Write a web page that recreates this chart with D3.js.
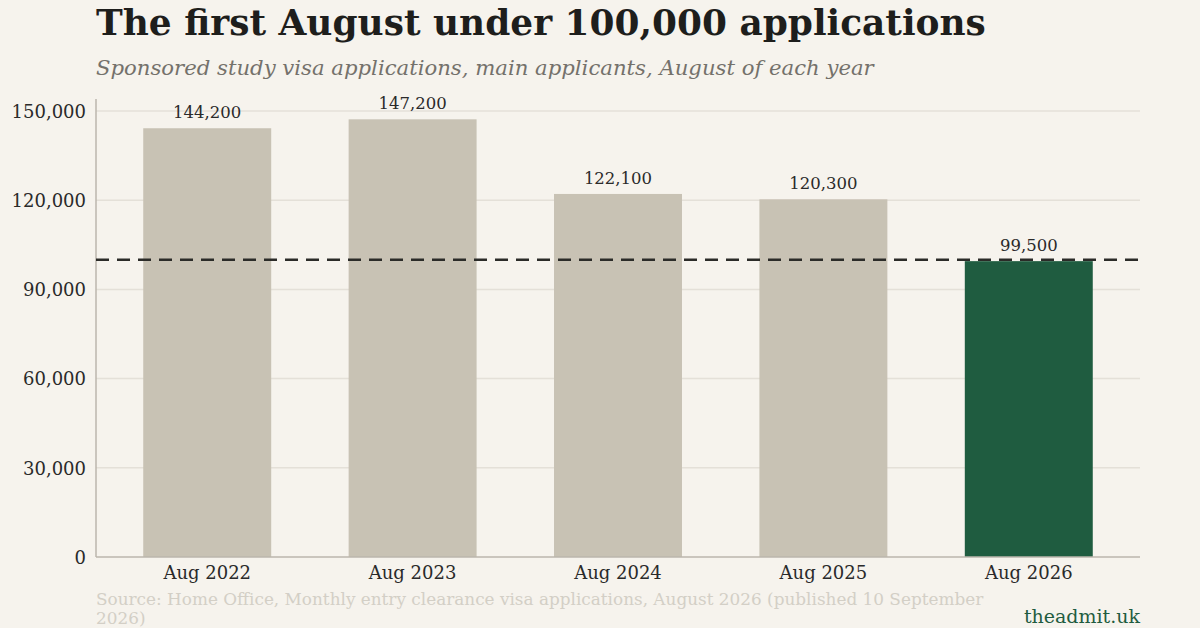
<!DOCTYPE html>
<html><head><meta charset="utf-8">
<script src="https://cdn.jsdelivr.net/npm/d3@7"></script>
<style>
html,body{margin:0;padding:0;background:#f6f3ed;}
svg{display:block;}
</style></head>
<body>
<svg id="chart" width="1200" height="628"></svg>
<script>
const categories = ["Aug 2022","Aug 2023","Aug 2024","Aug 2025","Aug 2026"];
const applications = [144200,147200,122100,120300,99500];
const yTicks = [0,30000,60000,90000,120000,150000];
const threshold = 100000;
const titleText = "The first August under 100,000 applications";
const subtitleText = "Sponsored study visa applications, main applicants, August of each year";
const sourceLines = ["Source: Home Office, Monthly entry clearance visa applications, August 2026 (published 10 September","2026)"];
const brandText = "theadmit.uk";

const W=1200,H=628;
const m={left:96,right:60,top:111,bottom:71};
const svg=d3.select("#chart");
svg.append("rect").attr("width",W).attr("height",H).attr("fill","#f6f3ed");

const x=d3.scaleBand().domain(categories).range([m.left,W-m.right]).paddingInner(0.377).paddingOuter(0.23);
const y=d3.scaleLinear().domain([0,150000]).range([H-m.bottom,m.top]);

const serif="'DejaVu Serif', 'Liberation Serif', serif";

function fit(sel,target){
  const n=sel.node(); const w=n.getComputedTextLength();
  const fs=parseFloat(sel.attr("font-size"));
  sel.attr("font-size",fs*target/w);
}

// gridlines
svg.append("g").selectAll("line").data(yTicks.filter(d=>d>0)).join("line")
  .attr("x1",m.left).attr("x2",W-m.right)
  .attr("y1",d=>y(d)).attr("y2",d=>y(d))
  .attr("stroke","#e4e0d8").attr("stroke-width",1.5);

// y axis
const yAxis=svg.append("g").attr("transform",`translate(${m.left},0)`)
  .call(d3.axisLeft(y).tickValues(yTicks).tickFormat(d3.format(",")).tickSize(0).tickPadding(10));
yAxis.select(".domain").attr("stroke","#bbb6ac").attr("stroke-width",1.5).attr("d",`M0,${y(0)}V${m.top-12}`);
yAxis.selectAll("text").attr("font-family",serif).attr("font-size",18).attr("fill","#2a2a2a").attr("dy","0.35em");

// bars
svg.append("g").selectAll("rect").data(applications).join("rect")
  .attr("x",(d,i)=>x(categories[i])).attr("width",x.bandwidth())
  .attr("y",d=>y(d)).attr("height",d=>y(0)-y(d))
  .attr("fill",(d,i)=>i===categories.length-1?"#1f5c40":"#c8c2b4");

// x axis
const xAxis=svg.append("g").attr("transform",`translate(0,${y(0)})`)
  .call(d3.axisBottom(x).tickSize(0).tickPadding(9));
xAxis.select(".domain").attr("stroke","#bbb6ac").attr("stroke-width",1.5).attr("d",`M${m.left},0H${W-m.right}`);
xAxis.selectAll("text").attr("font-family",serif).attr("font-size",18).attr("fill","#2a2a2a");

// value labels
svg.append("g").selectAll("text").data(applications).join("text")
  .attr("x",(d,i)=>x(categories[i])+x.bandwidth()/2).attr("y",d=>y(d)-10)
  .attr("text-anchor","middle").attr("font-family",serif).attr("font-size",16.5).attr("fill","#2a2a2a")
  .text(d=>d3.format(",")(d));

// threshold line
svg.append("line").attr("x1",m.left).attr("x2",W-m.right)
  .attr("y1",y(threshold)).attr("y2",y(threshold))
  .attr("stroke","#2b2b28").attr("stroke-width",2.5).attr("stroke-dasharray","13,8");

// title
const t=svg.append("text").attr("x",m.left).attr("y",35).attr("font-family",serif)
  .attr("font-weight","bold").attr("font-size",40).attr("fill","#1e1e1c").text(titleText);
fit(t,890);
const st=svg.append("text").attr("x",m.left).attr("y",75).attr("font-family",serif)
  .attr("font-style","italic").attr("font-size",20).attr("fill","#74716b").text(subtitleText);
fit(st,778);

// source
const src=svg.append("g");
sourceLines.forEach((l,i)=>{
  const s=src.append("text").attr("x",m.left).attr("y",605+i*19).attr("font-family",serif)
    .attr("font-size",16).attr("fill","#d3cfc6").text(l);
  if(i===0) fit(s,888);
  else s.attr("font-size",src.select("text").attr("font-size"));
});
svg.append("text").attr("x",W-m.right).attr("y",623).attr("text-anchor","end")
  .attr("font-family",serif).attr("font-size",19).attr("fill","#1f5c40").text(brandText);
</script>
</body></html>
